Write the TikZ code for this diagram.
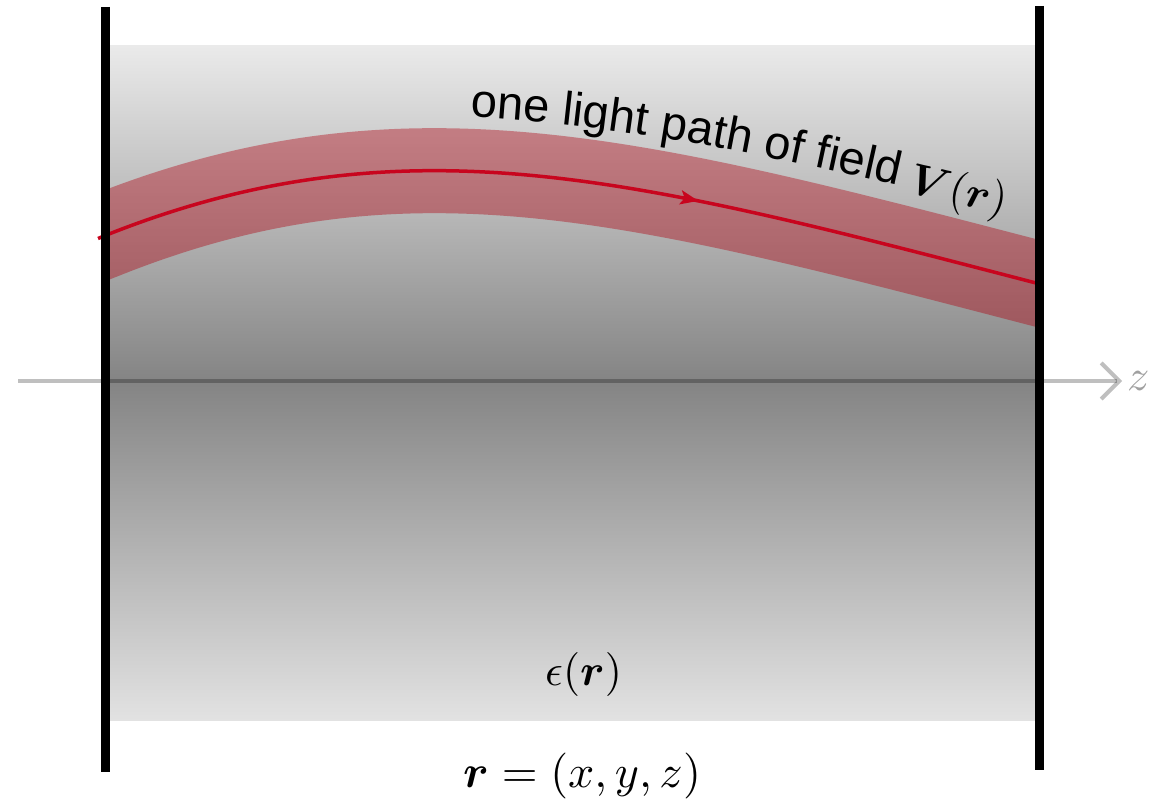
\documentclass[tikz,border=0pt]{standalone}
\usepackage{amsmath}
\usepackage{graphicx}
\usepackage{fontspec}
\setsansfont{Liberation Sans}
\usetikzlibrary{arrows.meta,decorations.markings,decorations.text}
\definecolor{bandred}{RGB}{175,0,15}
\definecolor{linered}{RGB}{200,5,30}
\definecolor{gtop}{RGB}{234,234,234}
\definecolor{gmid}{RGB}{132,132,132}
\definecolor{gbot}{RGB}{226,226,226}
\definecolor{zgray}{RGB}{160,160,160}
\newcommand\pathlabelfont{\fontsize{47}{56}\selectfont\sffamily}
\newcommand\bigmath[2][4.4]{\scalebox{#1}{$#2$}}
\begin{document}
\begin{tikzpicture}[x=1pt,y=-1pt,
  wall/.style={line width=9pt, black},
  mathlbl/.style={inner sep=0pt, font=\normalsize},
  bandstyle/.style={bandred, opacity=0.4, line width=85pt},
  raystyle/.style={linered, line width=3.5pt},
  axisstyle/.style={black, opacity=0.25, line width=4pt, -{Straight Barb[length=18pt,width=36pt]}}]
\useasboundingbox (0,0) rectangle (1166,800);
% medium
\shade[top color=gtop, bottom color=gmid] (110,46) rectangle (1035,381.5);
\shade[top color=gmid, bottom color=gbot] (110,381) rectangle (1035,720);
% coordinates of the ray
\coordinate (r0) at (104,236);
\coordinate (r1) at (1036,283);
\coordinate (c1) at (404,116);
\coordinate (c2) at (636,179);
\coordinate (e0) at (48,258);
\coordinate (e1) at (1094,298);
% band
\begin{scope}
\clip (105,0) rectangle (1039,800);
\draw[bandstyle] (e0) -- (r0) .. controls (c1) and (c2) .. (r1) -- (e1);
\end{scope}
% axis
\coordinate (zs) at (18,381);
\coordinate (ze) at (1122,381);
\draw[axisstyle] (zs) -- (ze);
\node[mathlbl, anchor=base west, text=zgray] (zl) at (1127,390) {\bigmath{z}};
% ray
\coordinate (s0) at (98,238.5);
\coordinate (s1) at (1040,284);
\draw[raystyle, postaction={decorate}, decoration={markings, mark=at position 0.635 with {\arrow{Stealth[length=18pt,width=14pt,inset=4pt]}}}]
  (s0) -- (r0) .. controls (c1) and (c2) .. (r1) -- (s1);
% walls
\coordinate (lw0) at (105,7);
\coordinate (lw1) at (105,772);
\coordinate (rw0) at (1039,6);
\coordinate (rw1) at (1039,770);
\draw[wall] (lw0) -- (lw1);
\draw[wall] (rw0) -- (rw1);
% labels
\coordinate (t0) at (470,117);
\coordinate (t1) at (900,186);
\coordinate (t2) at (1010,216);
\path[decorate, decoration={text along path, text={|\pathlabelfont|one light path of field}, text align=left}]
  (t0) .. controls (623,126) and (750,152) .. (t1) -- (t2);
\node[mathlbl, rotate=-13, anchor=base west] (vr) at (907,192) {\bigmath{\boldsymbol{V}(\boldsymbol{r})}};
\node[mathlbl, anchor=base west] (eps) at (545,685) {\bigmath{\epsilon(\boldsymbol{r})}};
\node[mathlbl, anchor=base west] (rdef) at (463,787) {\bigmath[4.6]{\boldsymbol{r}=(x,y,z)}};
\end{tikzpicture}
\end{document}
